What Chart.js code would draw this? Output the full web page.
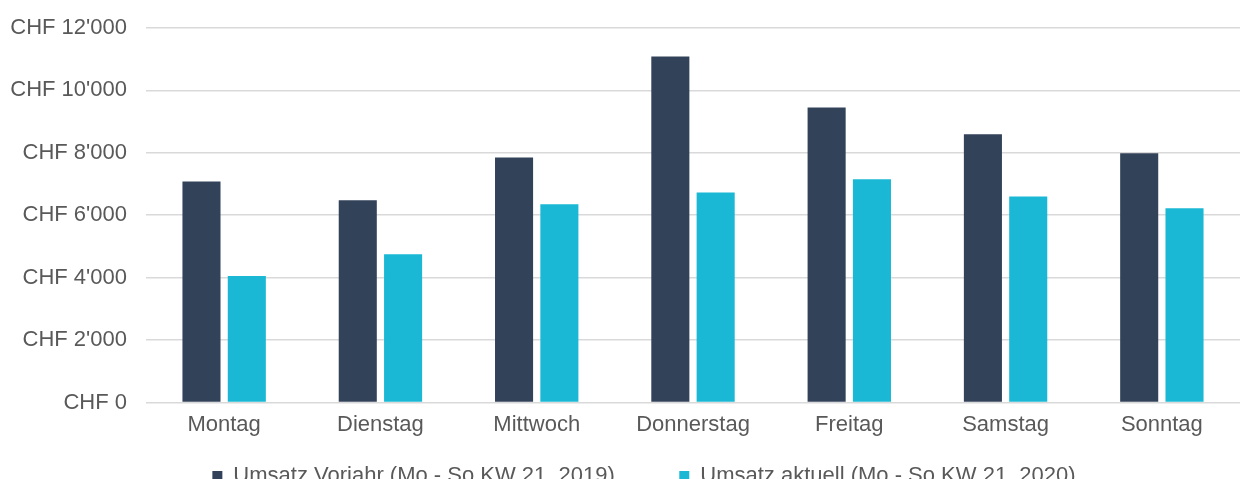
<!DOCTYPE html>
<html>
<head>
    <title>Umsatz KW 21</title>
    <script src="https://cdn.jsdelivr.net/npm/chart.js"></script>
    <style>
        html, body { margin: 0; padding: 0; background: #fff; overflow: hidden; }
        #clip { width: 1243px; height: 479px; overflow: hidden; }
        #wrap { width: 1243px; height: 497px; }
    </style>
</head>
<body>
    <div id="clip"><div id="wrap"><canvas id="umsatzChart"></canvas></div></div>

    <script>
        const days = ['Montag', 'Dienstag', 'Mittwoch', 'Donnerstag', 'Freitag', 'Samstag', 'Sonntag'];
        const umsatzVorjahr = [7080, 6480, 7850, 11080, 9450, 8590, 7980];
        const umsatzAktuell = [4050, 4750, 6350, 6730, 7150, 6600, 6220];
        const seriesNames = ['Umsatz Vorjahr (Mo - So KW 21, 2019)', 'Umsatz aktuell (Mo - So KW 21, 2020)'];

        const textColor = '#595959';
        const family = '"Liberation Sans", Arial, Helvetica, sans-serif';
        const font = { family: family, size: 22 };

        function chf(v) {
            return 'CHF ' + String(v).replace(/\B(?=(\d{3})+(?!\d))/g, "'");
        }

        // legend sits a bit right of the canvas centre in the original
        const legendShift = {
            id: 'legendShift',
            afterLayout(chart) {
                chart.legend.left += 24;
                chart.legend.right += 24;
            }
        };

        new Chart(document.getElementById('umsatzChart'), {
            type: 'bar',
            data: {
                labels: days,
                datasets: [{
                    label: seriesNames[0],
                    data: umsatzVorjahr,
                    backgroundColor: '#324259'
                }, {
                    label: seriesNames[1],
                    data: umsatzAktuell,
                    backgroundColor: '#1BB8D5'
                }]
            },
            options: {
                responsive: true,
                maintainAspectRatio: false,
                animation: false,
                categoryPercentage: 0.58,
                barPercentage: 0.84,
                layout: { padding: { top: 21, left: 0, right: 3, bottom: 0 } },
                plugins: {
                    tooltip: { enabled: false },
                    legend: {
                        position: 'bottom',
                        labels: {
                            color: textColor,
                            font: { family: family, size: 22 },
                            boxWidth: 10,
                            boxHeight: 10,
                            padding: 18,
                            generateLabels: chart => {
                                const items = Chart.defaults.plugins.legend.labels.generateLabels(chart);
                                items[0].text += '\u2003    ';
                                return items;
                            }
                        }
                    }
                },
                scales: {
                    x: {
                        grid: { display: false, drawTicks: false },
                        border: { display: false },
                        ticks: { color: textColor, font: font, padding: 9 }
                    },
                    y: {
                        min: 0,
                        max: 12000,
                        border: { display: false },
                        grid: { color: '#d9d9d9', lineWidth: 1.5, drawTicks: false },
                        ticks: {
                            stepSize: 2000,
                            color: textColor,
                            font: { family: family, size: 22, lineHeight: 0.8 },
                            padding: 19,
                            callback: v => chf(v)
                        },
                        afterFit: s => { s.width = 146; }
                    }
                }
            },
            plugins: [legendShift]
        });
    </script>
</body>
</html>
